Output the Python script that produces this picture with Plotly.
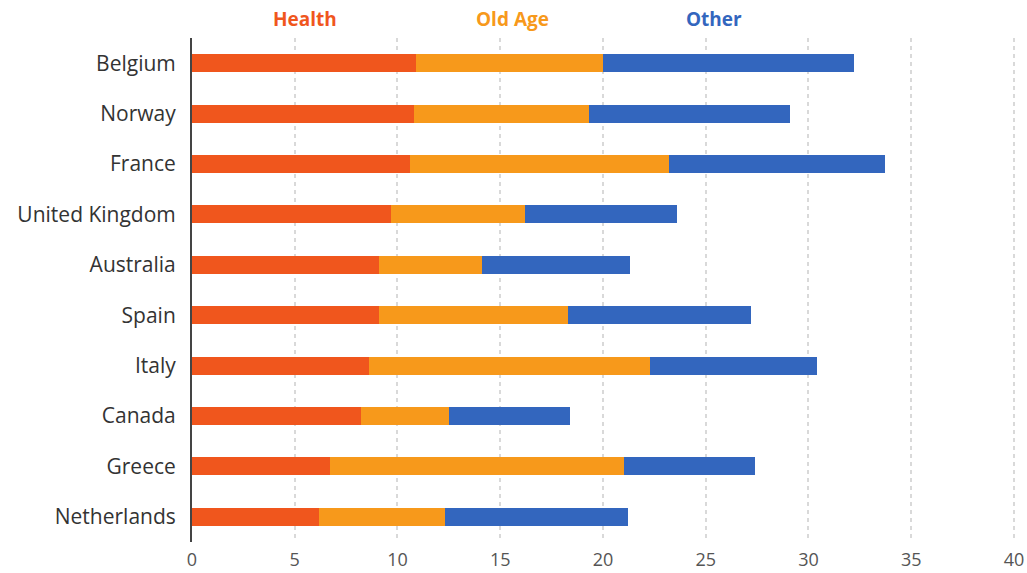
import plotly.graph_objects as go

# Public spending by category, % of GDP
countries = ["Belgium", "Norway", "France", "United Kingdom", "Australia",
             "Spain", "Italy", "Canada", "Greece", "Netherlands"]
health = [10.9, 10.8, 10.6, 9.7, 9.1, 9.1, 8.6, 8.2, 6.7, 6.2]
old_age = [9.1, 8.5, 12.6, 6.5, 5.0, 9.2, 13.7, 4.3, 14.3, 6.1]
other = [12.2, 9.8, 10.5, 7.4, 7.2, 8.9, 8.1, 5.9, 6.4, 8.9]

series = [
    ("Health", health, "#F0561D"),
    ("Old Age", old_age, "#F7991B"),
    ("Other", other, "#3366BE"),
]
x_ticks = [0, 5, 10, 15, 20, 25, 30, 35, 40]
label_x = [5.5, 15.6, 25.4]

fig = go.Figure()
for name, vals, color in series:
    fig.add_trace(go.Bar(
        y=countries, x=vals, name=name, orientation="h",
        marker=dict(color=color, line=dict(width=0)),
        width=0.36,
    ))

# Coloured series names above the plot instead of a legend box
for (name, _, color), xpos in zip(series, label_x):
    fig.add_annotation(
        x=xpos, xref="x", y=1.0, yref="paper", yanchor="bottom", yshift=4,
        text=f"<b>{name}</b>", showarrow=False,
        font=dict(family="Open Sans", size=19, color=color),
    )

fig.update_layout(
    barmode="stack",
    width=1027, height=573,
    margin=dict(l=192, r=12, t=38, b=31, autoexpand=False),
    plot_bgcolor="white", paper_bgcolor="white",
    showlegend=False,
    font=dict(family="Open Sans", color="#333333"),
)
fig.update_xaxes(
    range=[0, 40.05], tickvals=x_ticks, ticktext=[str(v) for v in x_ticks],
    showgrid=True, gridcolor="#D9D9D9", griddash="4px,4px", gridwidth=1.5,
    zeroline=False, showline=False, ticks="", automargin=False,
    tickfont=dict(size=18, color="#555555"), ticklabelstandoff=5,
)
fig.update_yaxes(
    categoryorder="array", categoryarray=countries[::-1],
    showgrid=False, showline=True, linecolor="#444444", linewidth=2,
    ticks="", automargin=False,
    tickfont=dict(size=21, color="#333333"), ticklabelstandoff=10,
)

fig.write_html("out.html")
